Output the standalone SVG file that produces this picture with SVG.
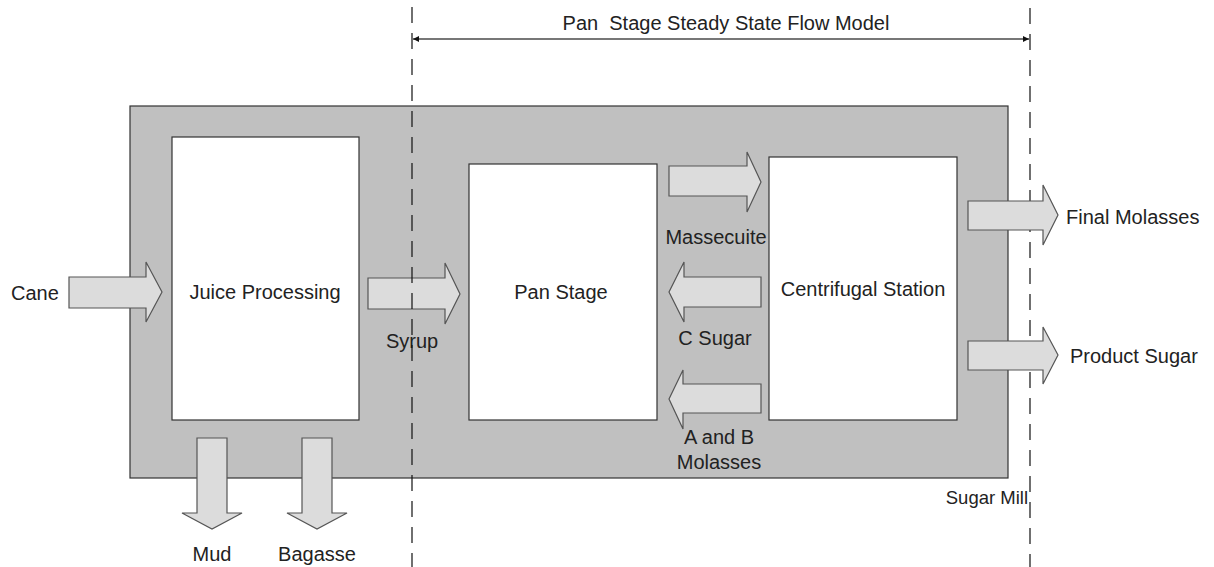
<svg xmlns="http://www.w3.org/2000/svg" width="1214" height="567" viewBox="0 0 1214 567">
  <style>
    text { font-family: "Liberation Sans", Arial, sans-serif; font-size: 20px; fill: #222; }
    .mid { text-anchor: middle; }
    .small { font-size: 18.5px; }
    .mill { fill: #c0c0c0; stroke: #333; stroke-width: 1.2; }
    .unit { fill: #fff; stroke: #333; stroke-width: 1.2; }
    .flow { fill: #dcdcdc; stroke: #555; stroke-width: 1.2; stroke-linejoin: miter; }
    .bound { stroke: #111; stroke-width: 1.2; fill: none; stroke-dasharray: 16 10; }
    .span { stroke: #777; stroke-width: 1.8; fill: none; }
  </style>
  <defs>
    <marker id="tip" viewBox="0 0 10 10" refX="10" refY="5" markerWidth="8" markerHeight="6" markerUnits="userSpaceOnUse" orient="auto-start-reverse">
      <path d="M0,0 L10,5 L0,10 Z" fill="#111"/>
    </marker>
  </defs>

  <rect width="1214" height="567" fill="#fff"/>

  <!-- sugar mill boundary -->
  <g id="sugar-mill">
    <rect class="mill" x="130" y="106" width="878" height="372"/>
    <text class="small" x="1028" y="504" text-anchor="end">Sugar Mill</text>
  </g>

  <!-- right boundary of the modelled region (behind outlet arrows) -->
  <line class="bound" x1="1030" y1="8" x2="1030" y2="567" stroke-dasharray="44 10 16 10 16 10 16 10 16 10 16 10 16 10 16 10 16 10 16 10 16 10 16 10 16 10 16 10 16 10 16 10 16 10 16 10 16 10 16 10 16 10"/>

  <g id="juice-processing">
    <rect class="unit" x="172" y="137" width="187" height="283"/>
    <text class="mid" x="265" y="299">Juice Processing</text>
  </g>

  <g id="pan-stage">
    <rect class="unit" x="469" y="164" width="188" height="256"/>
    <text class="mid" x="561" y="299">Pan Stage</text>
  </g>

  <g id="centrifugal-station">
    <rect class="unit" x="769" y="157" width="188" height="263"/>
    <text class="mid" x="863" y="296">Centrifugal Station</text>
  </g>

  <!-- material flows -->
  <g id="connectors">
    <g id="cane">
      <polygon class="flow" points="69,277 146,277 146,262 162,292 146,322 146,308 69,308"/>
      <text x="11" y="300">Cane</text>
    </g>
    <g id="syrup">
      <polygon class="flow" points="368,278 445,278 445,263 460,294 445,324 445,309 368,309"/>
      <text class="mid" x="412" y="348">Syrup</text>
    </g>
    <g id="massecuite">
      <polygon class="flow" points="669,166 747,166 747,152 761,182 747,212 747,196 669,196"/>
      <text class="mid" x="716" y="244">Massecuite</text>
    </g>
    <g id="c-sugar">
      <polygon class="flow" points="761,277 684,277 684,262 669,292 684,322 684,307 761,307"/>
      <text class="mid" x="715" y="345">C Sugar</text>
    </g>
    <g id="ab-molasses">
      <polygon class="flow" points="761,384 683,384 683,370 669,399 683,429 683,413 761,413"/>
      <text class="mid" x="719" y="444">A and B</text>
      <text class="mid" x="719" y="469">Molasses</text>
    </g>
    <g id="final-molasses">
      <polygon class="flow" points="968,201 1043,201 1043,185 1058,215 1043,245 1043,230 968,230"/>
      <text x="1066" y="224">Final Molasses</text>
    </g>
    <g id="product-sugar">
      <polygon class="flow" points="968,341 1043,341 1043,327 1058,355 1043,384 1043,370 968,370"/>
      <text x="1070" y="363">Product Sugar</text>
    </g>
    <g id="mud">
      <polygon class="flow" points="197,438 227,438 227,513 242,513 212,529 182,513 197,513"/>
      <text class="mid" x="212" y="561">Mud</text>
    </g>
    <g id="bagasse">
      <polygon class="flow" points="302,438 332,438 332,513 347,513 317,529 287,513 302,513"/>
      <text class="mid" x="317" y="561">Bagasse</text>
    </g>
  </g>

  <!-- left boundary of the modelled region and its span -->
  <g id="model-span">
    <line class="bound" x1="412" y1="7" x2="412" y2="567" stroke-dasharray="44 10 16 10"/>
    <line class="span" x1="413" y1="39" x2="1029" y2="39" marker-start="url(#tip)" marker-end="url(#tip)"/>
    <text class="mid" x="726" y="30" style="white-space: pre">Pan  Stage Steady State Flow Model</text>
  </g>
</svg>
